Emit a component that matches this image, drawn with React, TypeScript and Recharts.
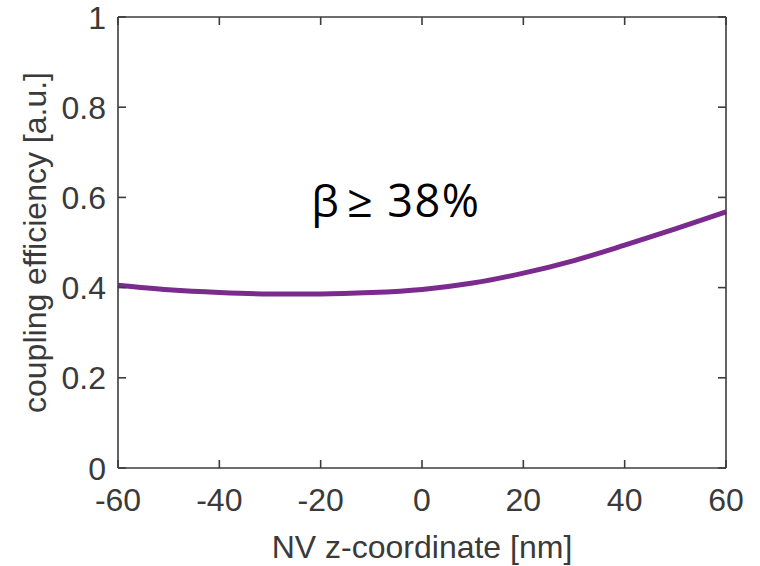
import { LineChart, Line, XAxis, YAxis, ReferenceDot } from 'recharts'

const zPositions = [-60, -50, -40, -30, -20, -10, 0, 10, 20, 30, 40, 50, 60]
const efficiency = [0.405, 0.395, 0.389, 0.386, 0.386, 0.389, 0.396, 0.41, 0.432, 0.46, 0.494, 0.53, 0.568]
const xTicks = [-60, -40, -20, 0, 20, 40, 60]
const yTicks = [0, 0.2, 0.4, 0.6, 0.8, 1]

const data = zPositions.map((z, i) => ({ z, eff: efficiency[i] }))

const axisColor = '#3c3c3c'
const textColor = '#3a3a3a'
const font = '"Liberation Sans", Arial, sans-serif'
const fontSize = 32
const inTick = 8
const axisWidth = 1.6

const BottomTick = (props: any) => {
  const { x, y, payload } = props
  const axisY = y - 20
  return (
    <g>
      <line x1={x} y1={axisY} x2={x} y2={axisY - inTick} stroke={axisColor} strokeWidth={axisWidth} />
      <text x={x} y={y} dy="0.71em" textAnchor="middle" fill={textColor} fontSize={fontSize} fontFamily={font}>
        {payload.value}
      </text>
    </g>
  )
}

const LeftTick = (props: any) => {
  const { x, y, payload } = props
  const axisX = x + 12
  return (
    <g>
      <line x1={axisX} y1={y} x2={axisX + inTick} y2={y} stroke={axisColor} strokeWidth={axisWidth} />
      <text x={x} y={y} dy="0.36em" textAnchor="end" fill={textColor} fontSize={fontSize} fontFamily={font}>
        {payload.value}
      </text>
    </g>
  )
}

const TopTick = (props: any) => {
  const { x, y } = props
  return <line x1={x} y1={y} x2={x} y2={y + inTick} stroke={axisColor} strokeWidth={axisWidth} />
}

const RightTick = (props: any) => {
  const { x, y } = props
  return <line x1={x} y1={y} x2={x - inTick} y2={y} stroke={axisColor} strokeWidth={axisWidth} />
}

// annotation drawn piece by piece so the gaps match the original
const BetaLabel = (props: any) => {
  const { viewBox } = props
  const cx = viewBox.x
  const cy = viewBox.y
  const f = '"Open Sans", sans-serif'
  return (
    <g fill="#000" fontFamily={f}>
      <text x={cx - 88} y={cy + 15} fontSize={44}>β</text>
      <text x={cx - 52} y={cy + 15} fontSize={45}>≥</text>
      <text x={cx - 12} y={cy + 15} fontSize={45} letterSpacing={1.5}>38%</text>
    </g>
  )
}

export default function App() {
  return (
    <div style={{ position: 'fixed', left: 0, top: 0, width: 760, height: 566, background: '#fff' }}>
      <LineChart width={760} height={566} data={data} margin={{ top: 16, right: 33, bottom: 0, left: 0 }}>
        <XAxis
          dataKey="z"
          type="number"
          domain={[-60, 60]}
          ticks={xTicks}
          tickSize={0}
          tickMargin={20}
          tick={BottomTick}
          axisLine={{ stroke: axisColor, strokeWidth: axisWidth }}
          height={98}
          label={{ value: 'NV z-coordinate [nm]', position: 'insideBottom', offset: 8, fill: textColor, fontSize: fontSize, fontFamily: font }}
        />
        <XAxis
          xAxisId="top"
          orientation="top"
          dataKey="z"
          type="number"
          domain={[-60, 60]}
          ticks={xTicks}
          tickSize={0}
          tickMargin={0}
          tick={TopTick}
          axisLine={{ stroke: axisColor, strokeWidth: axisWidth }}
          height={1}
        />
        <YAxis
          type="number"
          domain={[0, 1]}
          ticks={yTicks}
          tickSize={0}
          tickMargin={12}
          tick={LeftTick}
          axisLine={{ stroke: axisColor, strokeWidth: axisWidth }}
          width={118}
          label={{ value: 'coupling efficiency [a.u.]', angle: -90, position: 'insideLeft', offset: 35, fill: textColor, fontSize: fontSize, fontFamily: font, style: { textAnchor: 'middle' } }}
        />
        <YAxis
          yAxisId="right"
          orientation="right"
          type="number"
          domain={[0, 1]}
          ticks={yTicks}
          tickSize={0}
          tickMargin={0}
          tick={RightTick}
          axisLine={{ stroke: axisColor, strokeWidth: axisWidth }}
          width={1}
        />
        {/* invisible copy so the top/right box axes get drawn */}
        <Line
          xAxisId="top"
          yAxisId="right"
          dataKey="eff"
          stroke="none"
          dot={false}
          activeDot={false}
          isAnimationActive={false}
        />
        <Line
          type="monotone"
          dataKey="eff"
          stroke="#7b2a8e"
          strokeWidth={5}
          dot={false}
          isAnimationActive={false}
        />
        <ReferenceDot x={-4.5} y={0.589} r={0} stroke="none" fill="none" label={BetaLabel} />
      </LineChart>
    </div>
  )
}
